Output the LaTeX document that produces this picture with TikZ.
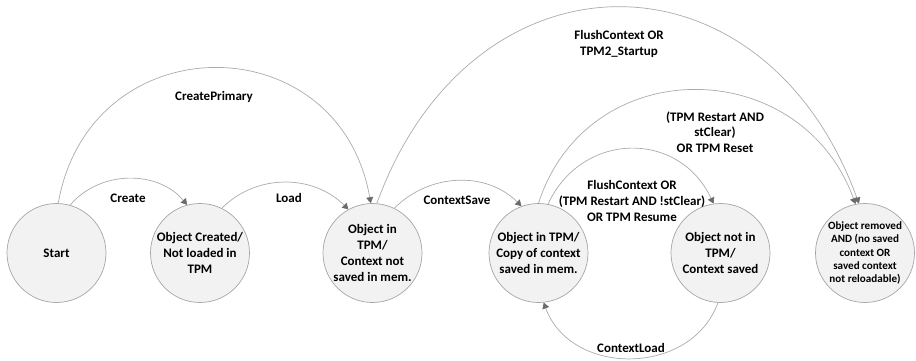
\documentclass[tikz,border=0pt]{standalone}
\usepackage{fontspec}
\setmainfont{Carlito}
\usetikzlibrary{arrows.meta}
\definecolor{statefill}{HTML}{F2F2F2}
\definecolor{stateline}{HTML}{A6A6A6}
\definecolor{edgeline}{HTML}{ABABAB}
\definecolor{tipcol}{HTML}{6B6B6B}
\begin{document}
\begin{tikzpicture}[x=1pt,y=1pt,
  state/.style={circle,draw=stateline,fill=statefill,line width=0.7pt,
    minimum size=99pt,inner sep=0pt,align=center,
    font=\fontsize{13}{15.7}\selectfont\bfseries},
  smallstate/.style={state,font=\fontsize{11.1}{13.2}\selectfont\bfseries},
  trans/.style={draw=edgeline,line width=0.7pt,
    -{Triangle[width=7pt,length=6pt,color=tipcol]}},
  lbl/.style={align=center,inner sep=0pt,
    font=\fontsize{13}{15.7}\selectfont\bfseries}]
\useasboundingbox (0,0) rectangle (916,360);

% states
\node[state] (start)   at (56.5,107)  {Start};
\node[state] (created) at (200,107)   {Object Created/\\Not loaded in\\TPM};
\node[state] (intpm)   at (372.5,107) {Object in\\TPM/\\Context not\\saved in mem.};
\node[state] (copy)    at (538.5,107) {Object in TPM/\\Copy of context\\saved in mem.};
\node[state] (notin)   at (720.5,107) {Object not in\\TPM/\\Context saved};
\node[smallstate] (removed) at (865,107) {Object removed\\AND (no saved\\context OR\\saved context\\not reloadable)};

% transitions
\draw[trans] (start.74) to[out=50,in=130] (created.105);
\draw[trans] (start.88) to[out=80,in=100,looseness=1.5] (intpm.92);
\draw[trans] (created.64) to[out=45,in=135] (intpm.119);
\draw[trans] (intpm.64) to[out=45,in=135] (copy.110);
\draw[trans] (intpm.85) to[out=70,in=110,looseness=1.48] (removed.97);
\draw[trans] (copy.90) to[out=72,in=110,looseness=1.29] (removed.101);
\draw[trans] (copy.79) to[out=65,in=115,looseness=1.25] (notin.98);
\draw[trans] (notin.267) to[out=-110,in=-70,looseness=1.16] (copy.276);

% transition labels
\node[lbl] (lcreate)  at (128,162) {Create};
\node[lbl] (lprimary) at (214,263) {CreatePrimary};
\node[lbl] (lload)    at (289,162) {Load};
\node[lbl] (lsave)    at (457,160) {ContextSave};
\node[lbl] (lflush)   at (619,316) {FlushContext OR\\TPM2\_Startup};
\node[lbl] (lreset)   at (715,228) {(TPM Restart AND\\stClear)\\OR TPM Reset};
\node[lbl] (lresume)  at (632,159) {FlushContext OR\\(TPM Restart AND !stClear)\\OR TPM Resume};
\node[lbl] (lcload)   at (631,12)  {ContextLoad};
\end{tikzpicture}
\end{document}
